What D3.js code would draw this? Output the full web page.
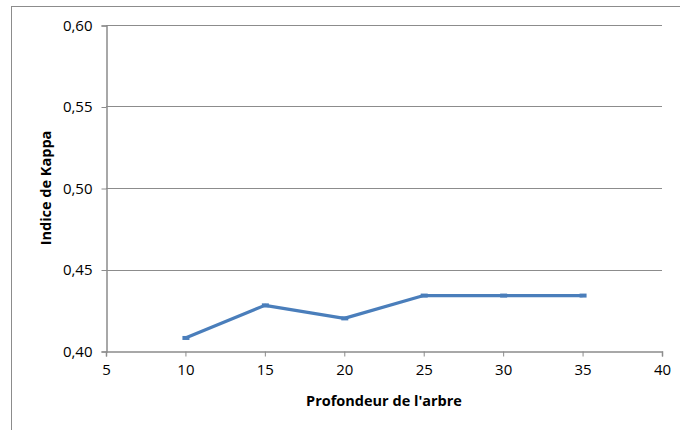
<!DOCTYPE html>
<meta charset="utf-8">
<style>
    html, body {
        margin: 0;
        padding: 0;
        background: #fff;
    }
    svg text {
        font-family: "Open Sans", "DejaVu Sans", sans-serif;
        fill: #000;
    }
    .grid line {
        stroke: #8c8c8c;
        stroke-width: 1;
    }
</style>
<body>
<div id="chart"></div>
<script src="https://cdn.jsdelivr.net/npm/d3@7"></script>
<script>
    // depth of tree vs kappa index
    var depth = [10, 15, 20, 25, 30, 35];
    var kappa = [0.408, 0.428, 0.420, 0.434, 0.434, 0.434];
    var xTicks = [5, 10, 15, 20, 25, 30, 35, 40];
    var yTicks = [0.40, 0.45, 0.50, 0.55, 0.60];

    var width = 680, height = 430;
    var plot = {left: 106, right: 662, top: 25, bottom: 351};

    var svg = d3.select("#chart").append("svg")
        .attr("width", width)
        .attr("height", height);

    // outer chart frame (runs off the right and bottom edges)
    svg.append("rect")
        .attr("x", 11.5)
        .attr("y", 6.5)
        .attr("width", 700)
        .attr("height", 500)
        .attr("fill", "none")
        .attr("stroke", "#8c8c8c");

    var x = d3.scaleLinear().domain([5, 40]).range([plot.left, plot.right]);
    var y = d3.scaleLinear().domain([0.40, 0.60]).range([plot.bottom, plot.top]);

    var fmt = function(d) { return d3.format(".2f")(d).replace(".", ","); };

    // horizontal gridlines
    svg.append("g")
        .attr("class", "grid")
        .selectAll("line")
        .data(yTicks.slice(1))
        .enter().append("line")
        .attr("x1", plot.left)
        .attr("x2", plot.right)
        .attr("y1", function(d) { return Math.round(y(d)) + 0.5; })
        .attr("y2", function(d) { return Math.round(y(d)) + 0.5; });

    var yAxis = d3.axisLeft(y).tickValues(yTicks).tickFormat(fmt).tickSizeOuter(0).tickSize(5).tickPadding(9);
    var xAxis = d3.axisBottom(x).tickValues(xTicks).tickSizeOuter(0).tickSize(5).tickPadding(8);

    var gy = svg.append("g")
        .attr("transform", "translate(" + (plot.left + 0.5) + ",0.5)")
        .call(yAxis);
    var gx = svg.append("g")
        .attr("transform", "translate(0," + (plot.bottom + 0.5) + ")")
        .call(xAxis);

    [gx, gy].forEach(function(g) {
        g.selectAll(".domain").attr("stroke", "#8c8c8c").attr("stroke-width", 1.5);
        g.selectAll(".tick line").attr("stroke", "#8c8c8c");
        g.selectAll(".tick text")
            .style("font-size", "15px")
            .style("font-family", "'Open Sans', sans-serif")
            .attr("fill", "#000");
    });

    // series line
    var line = d3.line()
        .x(function(d, i) { return x(depth[i]); })
        .y(function(d) { return y(d); });

    svg.append("path")
        .datum(kappa)
        .attr("d", line)
        .attr("fill", "none")
        .attr("stroke", "#4a7ebb")
        .attr("stroke-width", 3.2)
        .attr("stroke-linejoin", "round");

    // small dash markers
    svg.append("g")
        .selectAll("rect")
        .data(kappa)
        .enter().append("rect")
        .attr("x", function(d, i) { return x(depth[i]) - 3; })
        .attr("y", function(d) { return y(d) - 2; })
        .attr("width", 7)
        .attr("height", 4)
        .attr("fill", "#4a7ebb");

    // axis titles
    svg.append("text")
        .attr("x", (plot.left + plot.right) / 2)
        .attr("y", 406)
        .attr("text-anchor", "middle")
        .style("font-size", "14.5px")
        .style("font-weight", "bold")
        .text("Profondeur de l'arbre");

    svg.append("text")
        .attr("transform", "translate(51," + ((plot.top + plot.bottom) / 2) + ") rotate(-90)")
        .attr("text-anchor", "middle")
        .style("font-size", "14.5px")
        .style("font-weight", "bold")
        .text("Indice de Kappa");
</script>
</body>
